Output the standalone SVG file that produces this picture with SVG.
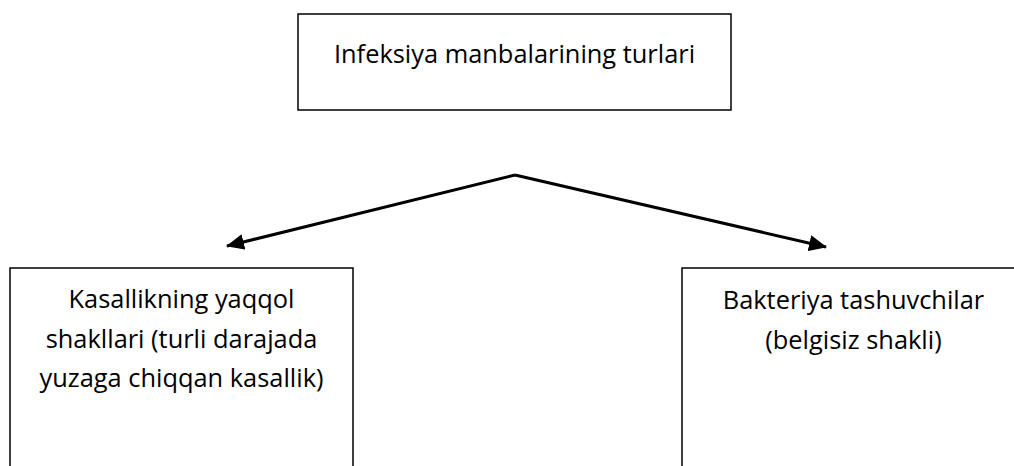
<svg xmlns="http://www.w3.org/2000/svg" width="1014" height="466" viewBox="0 0 1014 466">
<style>
.box{fill:#ffffff;stroke:#000000;stroke-width:1.5}
.t{font-family:"Open Sans","Noto Sans","Liberation Sans",sans-serif;font-size:25.4px;fill:#000000;text-anchor:middle}
.edge{stroke:#000000;stroke-width:3;fill:none}
</style>
<defs>
<marker id="ah" viewBox="0 0 18 16" refX="17" refY="8" markerWidth="18" markerHeight="16" markerUnits="userSpaceOnUse" orient="auto">
<path d="M0,0 L18,8 L0,16 z" fill="#000000"/>
</marker>
</defs>
<rect width="1014" height="466" fill="#ffffff"/>
<g id="connectors">
<line class="edge" x1="515" y1="175" x2="227" y2="246" marker-end="url(#ah)"/>
<line class="edge" x1="515" y1="175" x2="826" y2="247" marker-end="url(#ah)"/>
</g>
<g id="node-top">
<rect class="box" x="298" y="14" width="433" height="96"/>
<text class="t" x="514.5" y="63">Infeksiya manbalarining turlari</text>
</g>
<g id="node-left">
<rect class="box" x="10" y="268" width="343" height="220"/>
<text class="t" x="181.5" y="308">Kasallikning yaqqol</text>
<text class="t" x="181.5" y="348">shakllari (turli darajada</text>
<text class="t" x="181.5" y="387">yuzaga chiqqan kasallik)</text>
</g>
<g id="node-right">
<rect class="box" x="682" y="268" width="343" height="220"/>
<text class="t" x="853.5" y="309">Bakteriya tashuvchilar</text>
<text class="t" x="853.5" y="349">(belgisiz shakli)</text>
</g>
</svg>
